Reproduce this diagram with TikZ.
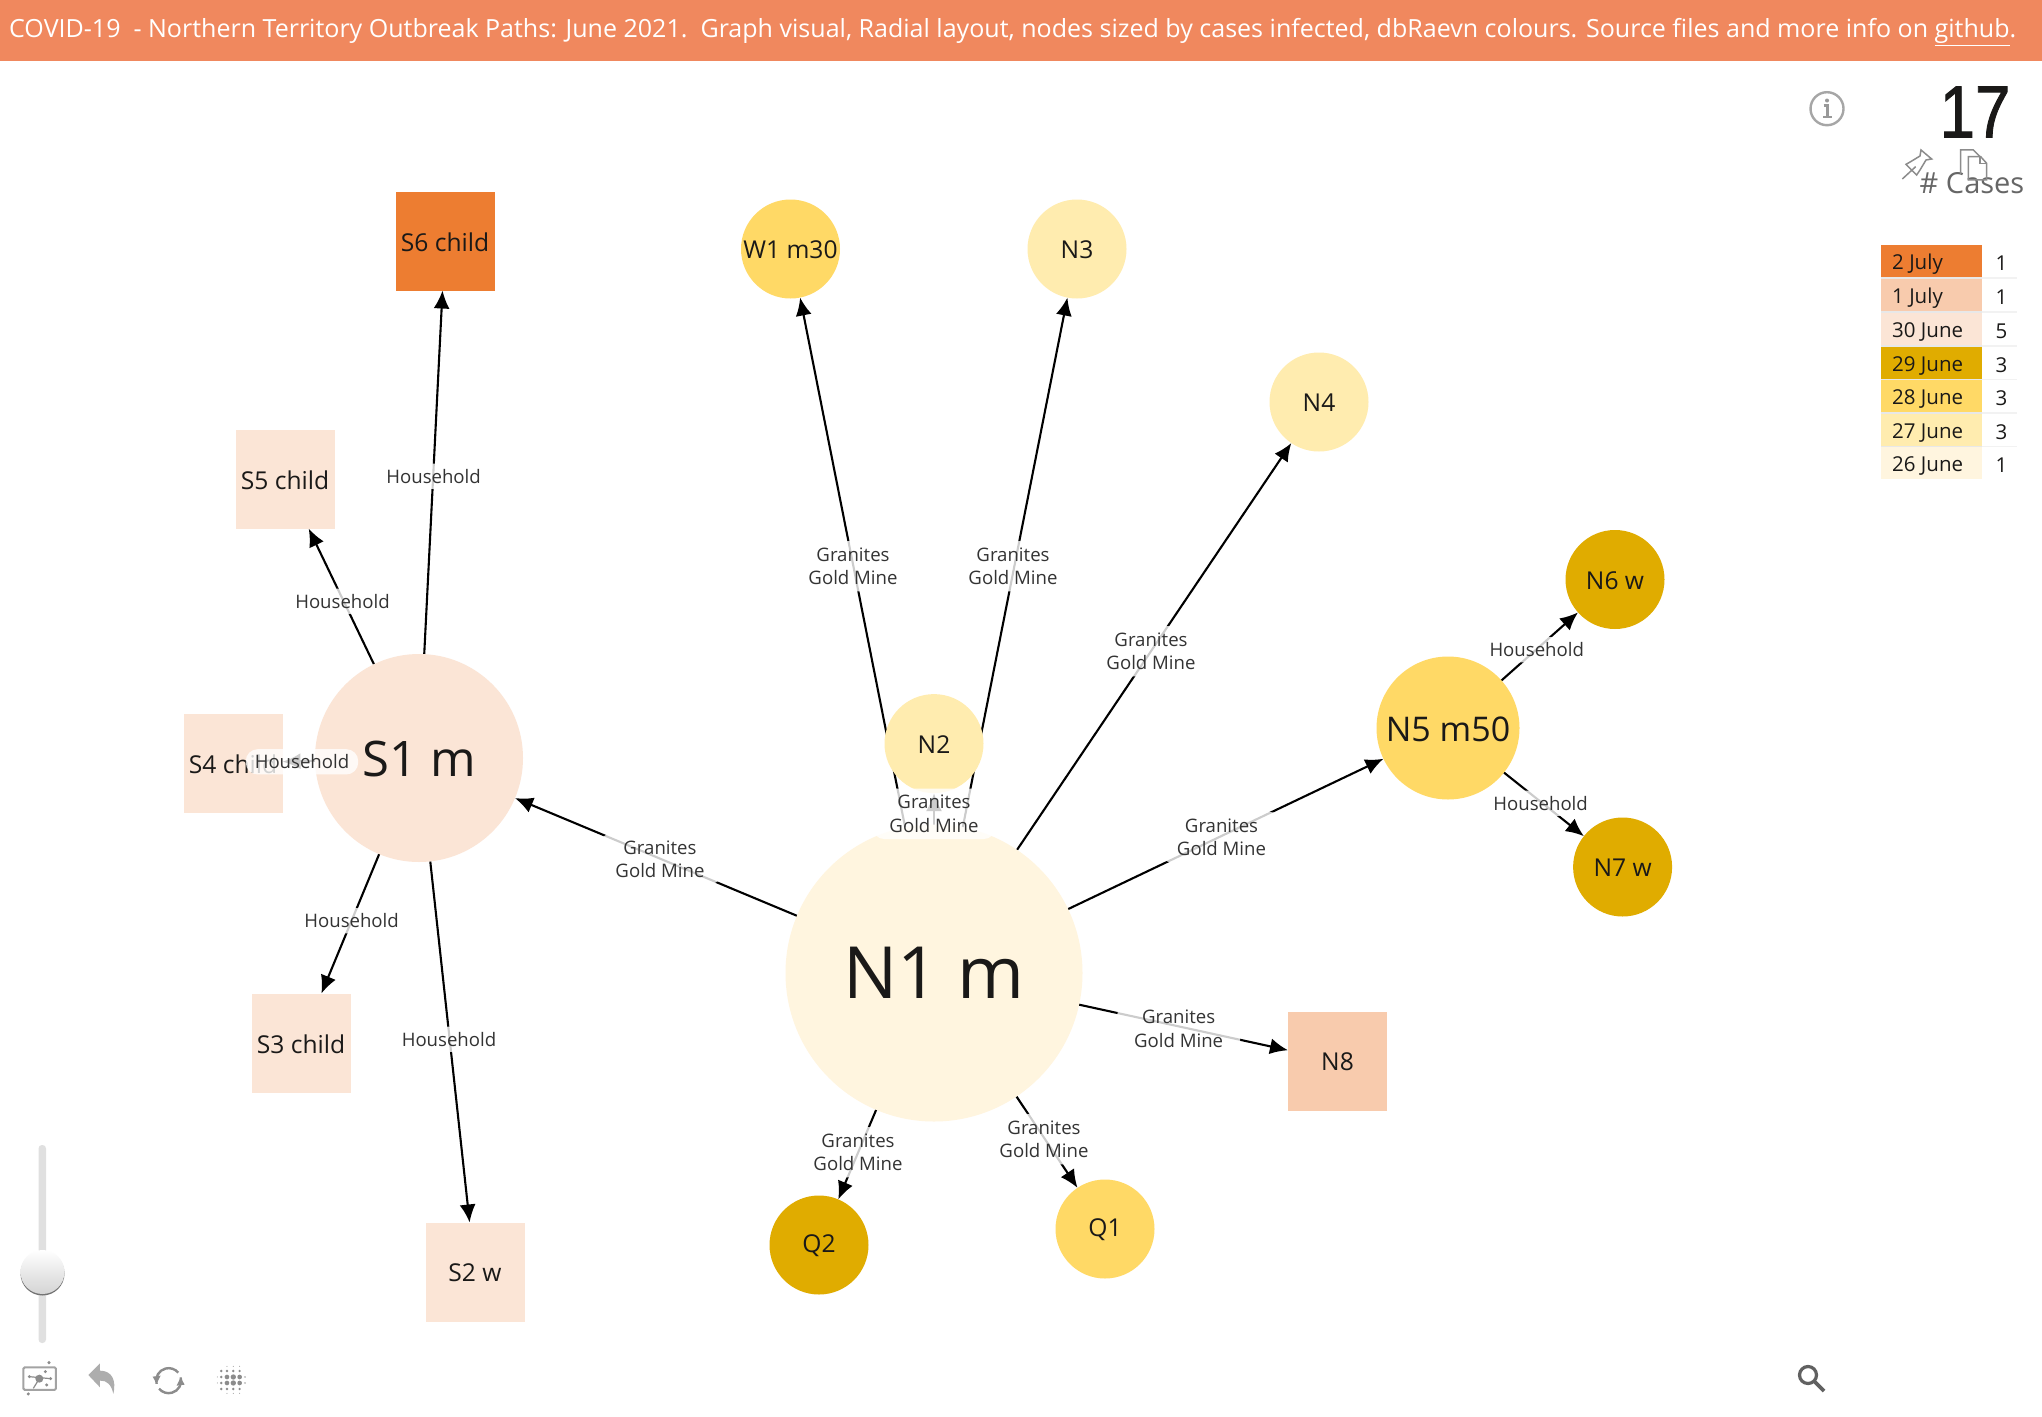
\documentclass[tikz,border=0pt]{standalone}
\usepackage{fontspec}
\setmainfont{Open Sans}
\newfontfamily\digitfont[FakeStretch=0.86,FakeBold=1.2]{Liberation Sans}
\usetikzlibrary{arrows.meta}
\definecolor{hdr}{HTML}{F0885E}
\definecolor{cA}{HTML}{ED7D31}
\definecolor{cB}{HTML}{F8CBAD}
\definecolor{cC}{HTML}{FBE5D6}
\definecolor{cD}{HTML}{E0AC00}
\definecolor{cE}{HTML}{FFD966}
\definecolor{cF}{HTML}{FFECAF}
\definecolor{cG}{HTML}{FFF5DF}
\definecolor{ink}{HTML}{1A1918}
\definecolor{lab}{HTML}{333333}
\definecolor{icon}{HTML}{8C8C8C}
\newcommand{\fs}[1]{\fontsize{#1}{#1}\selectfont}
% lowers a node's text by half of #1 inside its shape
\newcommand{\low}[2][2pt]{\raisebox{0pt}[\dimexpr\height+#1\relax]{#2}}
\tikzset{
  circ/.style={circle,inner sep=0pt,outer sep=0pt,minimum size=99pt,text=ink,font=\fs{24.6}},
  sq/.style={rectangle,inner sep=0pt,outer sep=0pt,minimum size=99pt,text=ink,font=\fs{24.6}},
  conn/.style={draw=black,line width=2.1pt,-{Latex[length=18pt,width=16pt]}},
  elabel/.style={fill=white,fill opacity=.8,text opacity=1,text=lab,rounded corners=12pt,
     yshift=-1.3pt,inner xsep=9pt,inner ysep=5.5pt,align=center,font=\fontsize{18.6}{23.5}\selectfont},
  elabeltwo/.style={elabel,inner xsep=17pt,inner ysep=6.5pt},
  legtext/.style={anchor=west,text=ink,inner sep=0pt,font=\fs{20.5}},
  legval/.style={text=ink,inner sep=0pt,font=\fs{20.5}},
  iconline/.style={draw=icon,line width=1.5pt},
  tool/.style={draw=icon!80,line width=3pt}
}
\newcommand{\GG}{Granites\\Gold Mine}
\newcommand{\legrow}[5]{%
  \fill[#3] (1881,#2) rectangle (1982,#2+32);
  \node[legtext] (legl#1) at (1892,#2+19.2) {#4};
  \node[legval] (legv#1) at (2001.5,#2+18.5) {#5};
}
\begin{document}
\begin{tikzpicture}[x=1pt,y=-1pt]
\useasboundingbox (0,0) rectangle (2042,1416);
\fill[white] (0,0) rectangle (2042,1416);
% header
\fill[hdr] (0,0) rectangle (2042,61);
\node[anchor=west,text=white,inner sep=0pt,font=\fs{25.03}] (title) at (9,32)
  {COVID-19\ \ - Northern Territory Outbreak Paths: June 2021.\ \ Graph visual, Radial layout, nodes sized by cases infected, dbRaevn colours. Source files and more info on \underline{github}.};
% anchor nodes for the connectors
\path
 (934,973) node[circ,minimum size=297pt] (n1) {}
 (419,758) node[circ,minimum size=208pt] (s1) {}
 (1448,728) node[circ,minimum size=143pt] (n5) {}
 (934,743.6) node[circ] (n2) {}
 (790.5,249) node[circ] (w1) {}
 (1077,249) node[circ] (n3) {}
 (1319,402) node[circ] (n4) {}
 (1615,579.5) node[circ] (n6) {}
 (1622.6,867) node[circ] (n7) {}
 (1105,1229) node[circ] (q1) {}
 (819,1245) node[circ] (q2) {}
 (1337.5,1061) node[sq] (n8) {}
 (475,1272) node[sq] (s2) {}
 (301,1043) node[sq] (s3) {}
 (233,763) node[sq] (s4) {}
 (285,479) node[sq] (s5) {}
 (445,241) node[sq] (s6) {};
% connectors
\draw[conn] (n1) -- (s1);
\draw[conn] (n1) -- (w1);
\draw[conn] (n1) -- (n3);
\draw[conn] (n1) -- (n2);
\draw[conn] (n1) -- (n4);
\draw[conn] (n1) -- (n5);
\draw[conn] (n1) -- (n8);
\draw[conn] (n1) -- (q1);
\draw[conn] (n1) -- (q2);
\draw[conn] (n5) -- (n6);
\draw[conn] (n5) -- (n7);
\draw[conn] (s1) -- (s2);
\draw[conn] (s1) -- (s3);
\draw[conn] (s1) -- (s4);
\draw[conn] (s1) -- (s5);
\draw[conn] (s1) -- (s6);
% visible node faces
\node[circ,fill=cG,minimum size=297pt,font=\fs{72}] (n1f) at (n1) {N1 m};
\node[circ,fill=cC,minimum size=208pt,font=\fs{49}] (s1f) at (s1) {\low{S1 m}};
\node[circ,fill=cE,minimum size=143pt,font=\fs{34}] (n5f) at (n5) {\low{N5 m50}};
\node[circ,fill=cF] (n2f) at (n2) {\low{N2}};
\node[circ,fill=cE] (w1f) at (w1) {\low{W1 m30}};
\node[circ,fill=cF] (n3f) at (n3) {\low{N3}};
\node[circ,fill=cF] (n4f) at (n4) {\low{N4}};
\node[circ,fill=cD] (n6f) at (n6) {\low{N6 w}};
\node[circ,fill=cD] (n7f) at (n7) {\low{N7 w}};
\node[circ,fill=cE] (q1f) at (q1) {\low{Q1}};
\node[circ,fill=cD] (q2f) at (q2) {\low{Q2}};
\node[sq,fill=cB] (n8f) at (n8) {\low{N8}};
\node[sq,fill=cC] (s2f) at (s2) {\low{S2 w}};
\node[sq,fill=cC] (s3f) at (s3) {\low{S3 child}};
\node[sq,fill=cC] (s4f) at (s4) {\low{S4 child}};
\node[sq,fill=cC] (s5f) at (s5) {\low{S5 child}};
\node[sq,fill=cA] (s6f) at (s6) {\low{S6 child}};
% connector labels
\node[elabeltwo] (l1) at (660,858) {\GG};
\node[elabeltwo] (l2) at (853,565) {\GG};
\node[elabeltwo] (l3) at (1013,565) {\GG};
\node[elabeltwo] (l4) at (1151,650) {\GG};
\node[elabeltwo] (l5) at (934,812.6) {\GG};
\node[elabeltwo] (l6) at (1221.5,836) {\GG};
\node[elabeltwo] (l7) at (1178.6,1027.5) {\GG};
\node[elabeltwo] (l8) at (1044,1138) {\GG};
\node[elabeltwo] (l9) at (858,1151) {\GG};
\node[elabel] (h1) at (433.6,475) {Household};
\node[elabel] (h2) at (342.5,600) {Household};
\node[elabel] (h3) at (302,760.5) {Household};
\node[elabel] (h4) at (351.6,919.4) {Household};
\node[elabel] (h5) at (449,1038) {Household};
\node[elabel] (h6) at (1536.7,648.5) {Household};
\node[elabel] (h7) at (1540.6,802) {Household};
% card
\node[text=ink,inner sep=0pt,font=\digitfont\fs{74}] (total) at (1975,112) {17};
\node[text=black!60,inner sep=0pt,font=\fs{29}] (cases) at (1972,183) {\# Cases};
% legend
\fill[black!9] (1881,245) rectangle (1982,479);
\fill[black!5] (1982,245) rectangle (2017,479);
\foreach \yy in {245,279,312.7,346.5,380,413.7,447} \fill[white] (1982,\yy) rectangle (2016.5,\yy+32);
\legrow{a}{245}{cA}{2 July}{1}
\legrow{b}{279}{cB}{1 July}{1}
\legrow{c}{312.7}{cC}{30 June}{5}
\legrow{d}{346.5}{cD}{29 June}{3}
\legrow{e}{380}{cE}{28 June}{3}
\legrow{f}{413.7}{cF}{27 June}{3}
\legrow{g}{447}{cG}{26 June}{1}
% info icon
\draw[draw=black!35,line width=2.4pt] (1827,108.7) circle (16.5);
\fill[black!40] (1827,100.5) circle (2);
\draw[draw=black!40,line width=2.2pt] (1823.5,105.5) -- (1827.5,105.5) -- (1827.5,117) (1823,117) -- (1832,117);
% pin and copy icons (coordinates in zoom pixels)
\begin{scope}[shift={(1750,60)},x=.3333pt,y=-.3333pt]
\draw[iconline] (457,357) -- (497,320);
\draw[iconline] (468,313) -- (500,345) -- (510,330) -- (528,300) -- (545,297) -- (513,270) -- (510,288) -- (482,305) -- cycle;
\draw[iconline] (632,342) -- (632,270) -- (670,270) -- (692,292);
\draw[iconline] (655,360) -- (655,290) -- (692,290) -- (710,310) -- (710,360) -- cycle;
\draw[iconline] (690,292) -- (690,310) -- (710,310);
\end{scope}
% slider
\fill[black!12,rounded corners=3.5pt] (38.5,1145) rectangle (46,1343);
\fill[black!55] (42.5,1273.5) circle (22);
\shade[top color=white,bottom color=black!17] (42.5,1272) circle (22);
% toolbar icons (coordinates in zoom pixels)
\begin{scope}[shift={(0,1130)},x=.3333pt,y=-.3333pt]
\draw[tool,line width=2pt,rounded corners=1.5pt] (70,712) rectangle (168,780);
\fill[icon] (118,746) circle (12);
\foreach \px/\py in {88/740,152/746,140/765,136/725,147/698,85/792} \fill[icon] (\px,\py) circle (5);
\draw[icon,line width=1.2pt] (88,740) -- (152,746) (118,746) -- (100,775);
\fill[black!32] (265,735) -- (300,700) -- (300,722) .. controls (335,722) and (350,750) .. (340,792) .. controls (335,765) and (320,750) .. (300,752) -- (300,772) -- cycle;
\foreach \px/\py/\pr in {
 700/741/8,700/759/8,681/741/7,719/741/7,681/759/7,719/759/7,
 664/741/4,736/741/2,664/759/4,736/759/2,652/741/1.5,652/759/1.5,733/741/1.5,733/759/1.5,
 664/723/4,681/723/4,700/723/4,719/723/4,664/777/4,681/777/4,700/777/4,719/777/4,
 681/709/1.5,700/709/1.5,719/709/1.5,681/790/1.5,700/790/1.5,719/790/1.5}
 \fill[icon] (\px,\py) circle (\pr);
\begin{scope}[shift={(506,752)},x=1pt,y=1pt]
\draw[draw=icon,line width=2.4pt] (195:12.5) arc (195:40:12.5);
\draw[draw=icon,line width=2.4pt] (15:12.5) arc (15:-140:12.5);
\fill[icon] (-16,4) -- (-8,5) -- (-12,-3) -- cycle;
\fill[icon] (16,-4) -- (8,-5) -- (12,3) -- cycle;
\end{scope}
\end{scope}
% magnifier
\draw[draw=black!62,line width=3.2pt] (1808,1375) circle (8.5);
\draw[draw=black!62,line width=3.6pt] (1814.5,1381.5) -- (1824,1391);
\end{tikzpicture}
\end{document}
